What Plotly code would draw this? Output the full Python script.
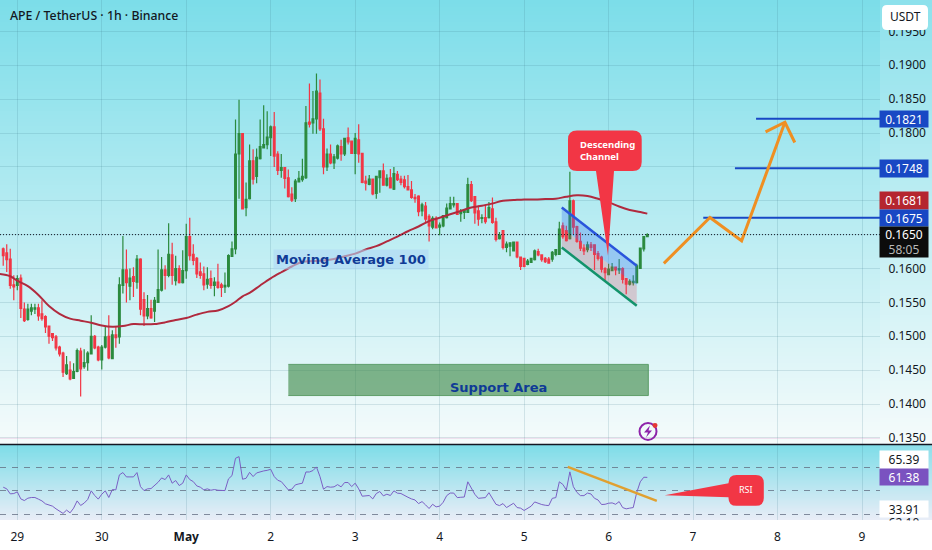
"""APE / TetherUS 1h: свечи, MA 100, канал, уровни и RSI"""

import numpy as np
import plotly.graph_objects as go

WIDTH, HEIGHT = 932, 550
PANE_RIGHT, MAIN_BOTTOM, RSI_BOTTOM = 880, 446, 522

# часы от начала 29 апреля
hours = list(range(-4, 180))
opens = [
    .1629, .1623, .1614, .1576, .1575, .1586, .1540, .1525, .1537, .1540,
    .1542, .1533, .1529, .1515, .1504, .1499, .1484, .1475, .1445, .1450,
    .1438, .1448, .1478, .1455, .1461, .1474, .1500, .1484, .1465, .1484,
    .1500, .1467, .1502, .1499, .1575, .1598, .1574, .1588, .1580, .1614,
    .1554, .1530, .1541, .1537, .1550, .1568, .1598, .1590, .1620, .1582,
    .1600, .1579, .1597, .1647, .1621, .1615, .1595, .1592, .1577, .1585,
    .1575, .1580, .1576, .1573, .1574, .1618, .1629, .1769,
    .1799, .1690, .1703, .1759, .1736, .1762, .1778, .1783, .1793, .1809,
    .1769, .1745, .1749, .1734, .1710, .1703, .1728, .1731, .1734, .1816,
    .1815, .1821, .1859, .1806, .1750, .1769, .1756, .1763, .1780, .1769,
    .1793, .1788, .1770, .1790, .1770, .1729, .1724, .1732, .1711, .1734,
    .1744, .1723, .1734, .1717, .1739, .1732, .1731, .1721, .1716, .1705,
    .1707, .1685, .1692, .1677, .1661, .1674, .1661, .1663, .1675, .1688,
    .1694, .1696, .1681, .1683, .1683, .1724, .1706, .1685,
    .1674, .1675, .1675, .1688, .1669, .1644, .1656, .1631, .1633, .1626,
    .1639, .1617, .1615, .1606, .1609, .1613, .1625, .1620, .1615, .1614,
    .1614, .1621, .1621, .1663, .1656, .1644, .1700, .1662, .1640, .1630,
    .1628, .1635, .1635, .1622, .1617, .1600, .1591, .1597, .1602, .1598,
    .1600, .1585, .1577, .1579, .1579, .1600, .1629, .1647,
]
highs = [
    .1631, .1636, .1629, .1590, .1590, .1591, .1550, .1548, .1548, .1548,
    .1548, .1553, .1531, .1516, .1505, .1502, .1486, .1477, .1471, .1463,
    .1460, .1482, .1483, .1481, .1478, .1531, .1502, .1486, .1487, .1515,
    .1531, .1509, .1514, .1587, .1648, .1628, .1600, .1602, .1620, .1615,
    .1565, .1561, .1554, .1558, .1628, .1617, .1605, .1667, .1638, .1619,
    .1605, .1627, .1666, .1675, .1636, .1617, .1609, .1603, .1602, .1597,
    .1587, .1607, .1579, .1594, .1621, .1640, .1820, .1849,
    .1799, .1727, .1783, .1776, .1777, .1820, .1841, .1832, .1811, .1831,
    .1773, .1769, .1750, .1746, .1720, .1732, .1744, .1762, .1840, .1873,
    .1862, .1888, .1879, .1821, .1777, .1783, .1769, .1783, .1790, .1792,
    .1808, .1788, .1800, .1813, .1770, .1737, .1738, .1733, .1737, .1744,
    .1755, .1739, .1747, .1750, .1744, .1737, .1737, .1738, .1729, .1710,
    .1708, .1697, .1698, .1680, .1677, .1677, .1668, .1679, .1696, .1706,
    .1706, .1696, .1688, .1688, .1734, .1729, .1707, .1693,
    .1680, .1694, .1698, .1705, .1675, .1654, .1656, .1640, .1638, .1640,
    .1640, .1617, .1615, .1614, .1615, .1628, .1629, .1621, .1617, .1617,
    .1626, .1628, .1669, .1668, .1663, .1743, .1702, .1663, .1653, .1636,
    .1640, .1639, .1636, .1626, .1619, .1602, .1607, .1608, .1603, .1614,
    .1602, .1586, .1584, .1590, .1607, .1631, .1648, .1652,
]
lows = [
    .1604, .1595, .1570, .1553, .1568, .1527, .1521, .1523, .1531, .1533,
    .1523, .1523, .1505, .1489, .1493, .1479, .1470, .1440, .1443, .1435,
    .1437, .1447, .1411, .1452, .1449, .1473, .1481, .1463, .1451, .1482,
    .1466, .1466, .1483, .1489, .1563, .1550, .1553, .1558, .1570, .1531,
    .1515, .1525, .1526, .1521, .1549, .1566, .1569, .1587, .1576, .1575,
    .1578, .1578, .1585, .1612, .1605, .1586, .1585, .1568, .1570, .1570,
    .1559, .1570, .1558, .1564, .1572, .1617, .1621, .1703,
    .1687, .1677, .1702, .1724, .1726, .1761, .1777, .1776, .1766, .1750,
    .1738, .1734, .1718, .1705, .1698, .1698, .1727, .1728, .1732, .1808,
    .1799, .1799, .1803, .1739, .1744, .1754, .1747, .1761, .1759, .1766,
    .1783, .1769, .1739, .1756, .1726, .1715, .1723, .1708, .1703, .1712,
    .1722, .1721, .1718, .1716, .1729, .1723, .1718, .1715, .1703, .1697,
    .1677, .1677, .1668, .1640, .1658, .1660, .1649, .1661, .1674, .1687,
    .1690, .1680, .1669, .1673, .1682, .1698, .1666, .1663,
    .1667, .1666, .1674, .1666, .1640, .1643, .1628, .1624, .1618, .1625,
    .1615, .1598, .1602, .1605, .1608, .1612, .1618, .1610, .1608, .1608,
    .1610, .1618, .1620, .1644, .1640, .1643, .1651, .1638, .1626, .1620,
    .1624, .1626, .1598, .1612, .1594, .1582, .1590, .1596, .1590, .1592,
    .1578, .1562, .1575, .1575, .1578, .1600, .1625, .1647,
]
closes = [
    .1619, .1613, .1575, .1573, .1585, .1541, .1523, .1540, .1542, .1542,
    .1530, .1526, .1514, .1500, .1498, .1483, .1474, .1447, .1458, .1437,
    .1448, .1479, .1452, .1461, .1475, .1500, .1483, .1465, .1484, .1499,
    .1468, .1502, .1498, .1576, .1598, .1579, .1586, .1581, .1614, .1540,
    .1530, .1541, .1527, .1553, .1569, .1598, .1590, .1621, .1590, .1600,
    .1579, .1597, .1647, .1619, .1612, .1592, .1590, .1576, .1584, .1575,
    .1580, .1572, .1572, .1575, .1619, .1629, .1769, .1799,
    .1688, .1702, .1759, .1732, .1764, .1780, .1783, .1794, .1809, .1766,
    .1745, .1749, .1733, .1706, .1701, .1729, .1733, .1736, .1815, .1813,
    .1821, .1862, .1806, .1750, .1769, .1756, .1765, .1781, .1769, .1792,
    .1787, .1770, .1792, .1769, .1727, .1726, .1732, .1710, .1736, .1744,
    .1723, .1733, .1719, .1740, .1731, .1727, .1721, .1716, .1705, .1703,
    .1684, .1694, .1673, .1663, .1674, .1660, .1664, .1678, .1689, .1696,
    .1696, .1680, .1684, .1687, .1724, .1700, .1682, .1673,
    .1675, .1669, .1690, .1668, .1643, .1649, .1631, .1636, .1638, .1639,
    .1617, .1603, .1603, .1611, .1615, .1626, .1620, .1613, .1610, .1608,
    .1624, .1628, .1658, .1647, .1641, .1700, .1661, .1640, .1630, .1626,
    .1635, .1631, .1621, .1615, .1599, .1594, .1599, .1602, .1598, .1600,
    .1584, .1577, .1581, .1581, .1604, .1630, .1647, .1650,
]

ma_hours = [
    -5, -2, 0, 3, 6, 9, 12, 15, 18, 21, 24, 27, 30, 33, 36, 39, 42, 45, 48, 51,
    54, 57, 60, 62, 64, 66, 69, 72, 75, 78, 81, 84, 87, 90, 93, 96, 99, 102,
    105, 108, 111, 114, 117, 120, 123, 126, 129, 132, 135, 138, 141, 144, 147,
    150, 153, 156, 159, 162, 165, 168, 171, 174, 177, 179,
]
ma_values = [
    .1592, .15886, .1582, .1574, .1561, .15445, .1533, .1526, .1523, .1520,
    .1516, .1514, .1515, .1518, .15176, .1518, .15205, .1524, .1527, .1532,
    .1536, .1538, .15445, .1551, .1559, .1564, .1575, .15855, .15945, .1603,
    .1610, .1611, .1612, .1614, .1618, .1622, .1628, .1633, .1640, .1647,
    .1655, .1662, .1670, .1675, .1680, .1685, .1690, .16925, .1696, .1700,
    .1701, .1702, .1702, .17025, .1703, .1706, .1708, .1707, .1703, .1698,
    .16915, .16865, .16835, .1681,
]

rsi_values = [
    53.0, 51.6, 47.3, 47.6, 49.0, 43.0, 41.6, 43.6, 44.2, 44.2,
    42.8, 41.3, 38.8, 37.9, 36.8, 34.5, 32.3, 30.6, 33.4, 31.1,
    35.1, 41.3, 37.4, 39.4, 42.5, 49.9, 45.9, 42.8, 47.0, 49.9,
    44.2, 51.0, 50.7, 63.5, 65.5, 61.8, 61.8, 61.8, 65.5, 53.5,
    50.1, 51.6, 51.8, 54.4, 57.2, 60.9, 59.5, 63.5, 56.4, 58.7,
    54.4, 56.4, 63.5, 59.5, 57.8, 54.1, 53.0, 50.7, 51.6, 50.4,
    51.0, 50.4, 50.1, 50.1, 60.1, 62.9, 77.7, 79.1, 59.8, 60.6,
    65.7, 62.1, 65.2, 66.3, 66.9, 67.4, 68.3, 62.1, 58.9, 57.8,
    54.4, 50.7, 51.3, 55.0, 55.8, 56.4, 66.0, 66.0, 67.2, 70.3,
    62.1, 51.3, 53.5, 53.0, 53.3, 55.2, 53.3, 57.0, 57.0, 53.5,
    56.4, 51.6, 45.3, 45.3, 45.9, 43.0, 47.6, 49.3, 45.6, 47.0,
    45.9, 49.9, 47.9, 47.6,
    45.8, 44.4, 43.0, 42.1, 39.0, 40.7, 37.9, 34.8, 38.4, 36.2,
    36.8, 40.1, 45.8, 48.0, 48.0, 44.1, 44.4, 44.6, 57.6, 52.0,
    46.9, 43.5, 44.1, 44.1, 48.3, 43.5, 38.4, 37.3, 39.0, 35.6,
    37.3, 39.3, 35.6, 35.1, 33.1, 35.1, 36.8, 40.4, 39.0, 38.2,
    37.6, 37.3, 43.5, 44.1, 57.6, 55.4, 50.6, 66.1, 53.4, 48.6,
    45.8, 45.8, 48.0, 47.2, 43.5, 42.1, 38.2, 38.4, 39.3, 39.6,
    38.4, 40.7, 35.6, 34.5, 35.1, 35.6, 48.6, 57.6, 61.5, 61.38,
]

# разметка автора
forecast_hours = [183.7, 196.8, 205.8, 218.1]
forecast_prices = [.16076, .16753, .16409, .18159]
arrow_hours = [212.6, 218.1, 220.9]
arrow_prices = [.18018, .18159, .17860]
levels = [.1821, .1748, .1675]
level_starts = [209.9, 203.9, 194.9]
channel_hours = [154.7, 176.0]
channel_top = [.1690, .1604]
channel_mid = [.16606, .15747]
channel_bottom = [.1631, .1545]
support_hours = [77.0, 179.3]
support_prices = [.14125, .14585]
rsi_trend_hours = [156.4, 181.7]
rsi_trend_values = [70.3, 41.3]

day_ticks = list(range(0, 241, 24))
day_labels = ["29", "30", "<b>May</b>", "2", "3", "4", "5", "6", "7", "8", "9"]
price_ticks = [.135, .14, .145, .15, .155, .16, .165, .17, .175, .18, .185, .19, .195]
# подписи 0.1650, 0.1700, 0.1750 закрыты плашками цены
price_labels = ["0.1350", "0.1400", "0.1450", "0.1500", "0.1550", "0.1600", "", "", "",
                "0.1800", "0.1850", "0.1900", "0.1950"]
rsi_bands = [30, 50, 70]

FONT = "Noto Sans"
INK = "#131722"
GREEN = "#2b8a3e"
RED = "#f23645"
BLUE = "#1848c4"
ORANGE = "#ef8f22"
NAVY = "#0f3a96"
GRID = "rgba(60,120,135,0.17)"


def xp(px):
    return px / WIDTH


def yp(py):
    return 1 - py / HEIGHT


def pt(px, py):
    return f"{xp(px):.5f},{yp(py):.5f}"


def price_to_paper_range():
    # шкала: 0.1900 на 65.5 px, 6800 px на единицу цены
    return [.19 - (MAIN_BOTTOM - 65.5) / 6800, .19 + 65.5 / 6800]


def rsi_range():
    # 70 на 469 px, 30 на 516 px
    scale = (516 - 469) / 40
    return [70 - (RSI_BOTTOM - 469) / scale, 70 + (469 - MAIN_BOTTOM) / scale]


def hour_range():
    per_hour = 84.47 / 24
    return [-17.3 / per_hour, (PANE_RIGHT - 17.3) / per_hour]


def background(yaxis, top, bottom):
    rows = 120
    shade = np.linspace(0, 1, rows)
    return go.Heatmap(
        x=[0, PANE_RIGHT, WIDTH],
        y=np.linspace(0, 1, rows + 1),
        z=np.column_stack([shade, shade * 0.86]),
        zmin=0, zmax=1,
        colorscale=[[0, bottom], [1, top]],
        showscale=False,
        hoverinfo="skip",
        xaxis="x",
        yaxis=yaxis,
    )


def callout_down(left, top, right, bottom, base_l, base_r, tip, r=9):
    return (
        f"M {pt(left + r, top)} L {pt(right - r, top)} "
        f"Q {pt(right, top)} {pt(right, top + r)} L {pt(right, bottom - r)} "
        f"Q {pt(right, bottom)} {pt(right - r, bottom)} L {pt(base_r, bottom)} "
        f"L {pt(*tip)} L {pt(base_l, bottom)} L {pt(left + r, bottom)} "
        f"Q {pt(left, bottom)} {pt(left, bottom - r)} L {pt(left, top + r)} "
        f"Q {pt(left, top)} {pt(left + r, top)} Z"
    )


def callout_left(left, top, right, bottom, base_t, base_b, tip, r=8):
    return (
        f"M {pt(left + r, top)} L {pt(right - r, top)} "
        f"Q {pt(right, top)} {pt(right, top + r)} L {pt(right, bottom - r)} "
        f"Q {pt(right, bottom)} {pt(right - r, bottom)} L {pt(left + r, bottom)} "
        f"Q {pt(left, bottom)} {pt(left, bottom - r)} L {pt(left, base_b)} "
        f"L {pt(*tip)} L {pt(left, base_t)} L {pt(left, top + r)} "
        f"Q {pt(left, top)} {pt(left + r, top)} Z"
    )


def axis_label(text, y0, y1, bg, color, size=12):
    return dict(
        text=text, xref="paper", yref="paper",
        x=xp(904), y=yp((y0 + y1) / 2),
        xanchor="center", yanchor="middle",
        width=48, height=y1 - y0, borderpad=0,
        bgcolor=bg, showarrow=False, valign="middle",
        font=dict(family=FONT, size=size, color=color),
    )


fig = go.Figure()

fig.add_trace(background("y", "#7cdde9", "#f5fbfb"))
fig.add_trace(background("y2", "#7ddde8", "#e9edf7"))

fig.add_trace(go.Candlestick(
    x=hours, open=opens, high=highs, low=lows, close=closes,
    increasing=dict(line=dict(color=GREEN, width=1.2), fillcolor=GREEN),
    decreasing=dict(line=dict(color=RED, width=1.2), fillcolor=RED),
    whiskerwidth=0,
    xaxis="x2", yaxis="y3",
))
fig.add_trace(go.Scatter(
    x=ma_hours, y=ma_values, mode="lines",
    line=dict(color="#b02a3e", width=2, shape="spline"),
    xaxis="x2", yaxis="y3",
))
fig.add_trace(go.Scatter(
    x=channel_hours + channel_hours[::-1], y=channel_top + channel_mid[::-1],
    mode="none", fill="toself", fillcolor="rgba(60,120,240,0.32)",
    xaxis="x2", yaxis="y3",
))
fig.add_trace(go.Scatter(
    x=channel_hours + channel_hours[::-1], y=channel_mid + channel_bottom[::-1],
    mode="none", fill="toself", fillcolor="rgba(225,70,90,0.24)",
    xaxis="x2", yaxis="y3",
))
fig.add_trace(go.Scatter(
    x=channel_hours, y=channel_top, mode="lines",
    line=dict(color="#2a55dc", width=2.5),
    xaxis="x2", yaxis="y3",
))
fig.add_trace(go.Scatter(
    x=channel_hours, y=channel_bottom, mode="lines",
    line=dict(color="#12936b", width=2.5),
    xaxis="x2", yaxis="y3",
))
fig.add_trace(go.Scatter(
    x=[support_hours[0], support_hours[1], support_hours[1], support_hours[0]],
    y=[support_prices[0], support_prices[0], support_prices[1], support_prices[1]],
    mode="lines", fill="toself", fillcolor="rgba(60,135,70,0.62)",
    line=dict(color="rgba(60,135,70,0.7)", width=1),
    xaxis="x2", yaxis="y3",
))
for level, start in zip(levels, level_starts):
    fig.add_trace(go.Scatter(
        x=[start, hour_range()[1]], y=[level, level], mode="lines",
        line=dict(color=BLUE, width=2),
        xaxis="x2", yaxis="y3",
    ))
fig.add_trace(go.Scatter(
    x=forecast_hours, y=forecast_prices, mode="lines",
    line=dict(color=ORANGE, width=3),
    xaxis="x2", yaxis="y3",
))
fig.add_trace(go.Scatter(
    x=arrow_hours, y=arrow_prices, mode="lines",
    line=dict(color=ORANGE, width=3),
    xaxis="x2", yaxis="y3",
))

fig.add_trace(go.Scatter(
    x=hours, y=rsi_values, mode="lines",
    line=dict(color="#7a5fc4", width=1),
    xaxis="x3", yaxis="y4",
))
fig.add_trace(go.Scatter(
    x=rsi_trend_hours, y=rsi_trend_values, mode="lines",
    line=dict(color="#e0a030", width=2.5),
    xaxis="x3", yaxis="y4",
))

shapes = [
    # текущая цена
    dict(type="line", xref="x2", yref="y3", x0=hour_range()[0], x1=hour_range()[1],
         y0=.1650, y1=.1650, line=dict(color=INK, width=1, dash="1px,2px")),
    # разделитель панелей
    dict(type="line", xref="paper", yref="paper", x0=0, x1=1,
         y0=yp(MAIN_BOTTOM), y1=yp(MAIN_BOTTOM), line=dict(color=INK, width=1.5)),
    dict(type="line", xref="paper", yref="paper", x0=0, x1=xp(PANE_RIGHT),
         y0=yp(440), y1=yp(440), line=dict(color="rgba(225,150,205,0.3)", width=1)),
    # кнопка валюты
    dict(type="path", xref="paper", yref="paper", fillcolor="white", line_width=0,
         path=callout_left(882, 5, 928, 30, 17, 18, (882, 17.5), r=5)),
    # выноски
    dict(type="path", xref="paper", yref="paper", fillcolor=RED, line_width=0,
         path=callout_down(568, 131, 641.7, 171.7, 596, 614, (608, 256.7))),
    dict(type="path", xref="paper", yref="paper", fillcolor=RED, line_width=0,
         path=callout_left(728.5, 476.7, 763.8, 507.7, 485, 499, (664.7, 497))),
    # значок молнии
    dict(type="circle", xref="paper", yref="paper", x0=xp(639.5), x1=xp(656.5),
         y0=yp(441.5), y1=yp(424.5), line=dict(color="#8e24aa", width=2)),
    dict(type="path", xref="paper", yref="paper", fillcolor="#8e24aa", line_width=0,
         path=f"M {pt(650, 427)} L {pt(644, 434)} L {pt(648, 434)} L {pt(646, 439)} "
              f"L {pt(652, 432)} L {pt(648.5, 432)} Z"),
    dict(type="circle", xref="paper", yref="paper", x0=xp(652.5), x1=xp(657.5),
         y0=yp(429.5), y1=yp(424.5), fillcolor="#e53935", line_width=0),
]

annotations = [
    dict(text="APE / TetherUS · 1h · Binance", xref="paper", yref="paper",
         x=xp(8), y=yp(16), xanchor="left", yanchor="middle", showarrow=False,
         font=dict(family=FONT, size=12.3, color=INK, weight=500)),
    dict(text="USDT", xref="paper", yref="paper", x=xp(905), y=yp(17),
         xanchor="center", yanchor="middle", showarrow=False,
         font=dict(family=FONT, size=12, color=INK)),
    dict(text="Moving Average 100", xref="paper", yref="paper", x=xp(351), y=yp(260),
         xanchor="center", yanchor="middle", showarrow=False,
         bgcolor="rgba(175,215,245,0.6)", borderpad=2,
         font=dict(family="DejaVu Sans", size=13, color=NAVY, weight=700)),
    dict(text="Support Area", xref="paper", yref="paper", x=xp(498), y=yp(389),
         xanchor="center", yanchor="middle", showarrow=False,
         font=dict(family="DejaVu Sans", size=13, color=NAVY, weight=700)),
    dict(text="<b>Descending<br>Channel</b>", xref="paper", yref="paper", x=xp(578), y=yp(151),
         xanchor="left", yanchor="middle", align="left", showarrow=False,
         font=dict(family=FONT, size=9.5, color="white")),
    dict(text="RSI", xref="paper", yref="paper", x=xp(746), y=yp(491.5),
         xanchor="center", yanchor="middle", showarrow=False,
         font=dict(family=FONT, size=9, color="white")),
    axis_label("0.1821", 111, 127, "#1848c4", "white"),
    axis_label("0.1748", 161, 178, "#1848c4", "white"),
    axis_label("0.1681", 193, 210, "#b5262f", "white"),
    axis_label("0.1675", 210.5, 226.5, "#1848c4", "white"),
    axis_label("0.1650<br><span style='color:#b8b8b8'>58:05</span>", 228, 258, "#0c0c0c", "white"),
    axis_label("65.39", 453, 470.5, "white", INK),
    axis_label("61.38", 471, 487, "#7a52c0", "white"),
    axis_label("33.91", 503, 519, "white", INK),
    axis_label("62.10", 517, 531, "rgba(0,0,0,0)", INK),
    axis_label(" ", 523.5, 540, "white", "white"),
]

hidden = dict(visible=False, fixedrange=True)
fig.update_layout(
    width=WIDTH,
    height=HEIGHT,
    margin=dict(l=0, r=0, t=0, b=0),
    autosize=False,
    paper_bgcolor="white",
    plot_bgcolor="rgba(0,0,0,0)",
    showlegend=False,
    font=dict(family=FONT, color=INK),
    xaxis=dict(domain=[0, 1], range=[0, WIDTH], **hidden),
    yaxis=dict(domain=[yp(MAIN_BOTTOM), 1], range=[0, 1], anchor="x", **hidden),
    yaxis2=dict(domain=[yp(RSI_BOTTOM), yp(MAIN_BOTTOM)], range=[0, 1], anchor="x", **hidden),
    xaxis2=dict(
        domain=[0, xp(PANE_RIGHT)], range=hour_range(), anchor="y3",
        tickvals=day_ticks, showticklabels=False, ticks="",
        showgrid=True, gridcolor=GRID, zeroline=False,
        rangeslider=dict(visible=False),
    ),
    yaxis3=dict(
        domain=[yp(MAIN_BOTTOM), 1], range=price_to_paper_range(), anchor="x2",
        side="right", tickvals=price_ticks, ticktext=price_labels,
        ticks="outside", ticklen=5, tickcolor="rgba(0,0,0,0)",
        tickfont=dict(family=FONT, size=12, color=INK),
        showgrid=True, gridcolor=GRID, zeroline=False,
    ),
    xaxis3=dict(
        domain=[0, xp(PANE_RIGHT)], range=hour_range(), anchor="y4",
        tickvals=day_ticks, ticktext=day_labels, ticks="outside", ticklen=5,
        tickcolor="rgba(0,0,0,0)", tickangle=0,
        tickfont=dict(family=FONT, size=12, color=INK),
        showgrid=True, gridcolor=GRID, zeroline=False,
    ),
    yaxis4=dict(
        domain=[yp(RSI_BOTTOM), yp(MAIN_BOTTOM)], range=rsi_range(), anchor="x3",
        tickvals=rsi_bands, showticklabels=False, ticks="",
        showgrid=True, gridcolor="rgba(95,105,125,0.75)", griddash="6px,6px",
        zeroline=False,
    ),
    shapes=shapes,
    annotations=annotations,
)

# у страницы отступ 8 px по умолчанию, картинка должна лежать от угла
fig.write_html(
    "out.html",
    config=dict(displayModeBar=False),
    post_script="document.body.style.margin='0';document.documentElement.style.overflow='hidden';",
)
